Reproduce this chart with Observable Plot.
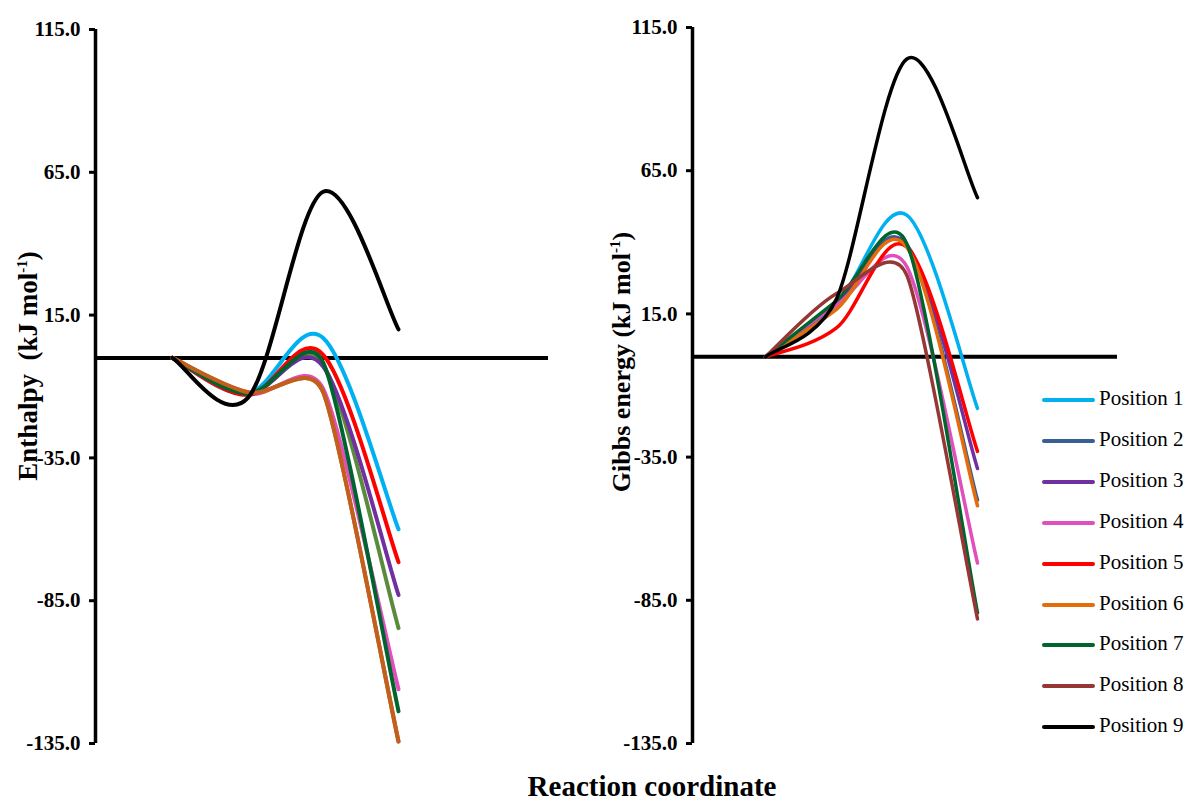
<!DOCTYPE html>
<html>
<head>
<meta charset="utf-8">
<script src="https://cdn.jsdelivr.net/npm/d3@7"></script>
<script src="https://cdn.jsdelivr.net/npm/@observablehq/plot@0.6"></script>
<style>
  html, body { margin: 0; padding: 0; background: #fff; }
  body { width: 1186px; height: 805px; position: relative; overflow: hidden; font-family: "Liberation Serif", "Times New Roman", serif; }
  .panel { position: absolute; top: 0; }
  .panel svg { background: transparent !important; }
  .panel svg text { font-family: "Liberation Serif", "Times New Roman", serif; font-weight: bold; }
  .ytitle { position: absolute; font-weight: bold; font-size: 26px; white-space: nowrap; transform: translate(-50%, -50%) rotate(-90deg); }
  .ytitle sup { font-size: 15px; }
  .xtitle { position: absolute; left: 652px; top: 770px; transform: translateX(-50%); font-weight: bold; font-size: 29px; white-space: nowrap; }
  .legend { position: absolute; left: 1042px; top: 0; z-index: 5; }
  .legend .item { position: absolute; left: 0; width: 150px; height: 24px; }
  .legend .swatch { position: absolute; left: 0; top: 10px; width: 53px; height: 4px; border-radius: 2px; }
  .legend .lab { position: absolute; left: 57px; top: -2px; font-size: 21px; white-space: nowrap; }
</style>
</head>
<body>
<div id="left" class="panel" style="left:0"></div>
<div id="right" class="panel" style="left:560px"></div>
<div class="ytitle" style="left:28px; top:366px; font-size:27px">Enthalpy&nbsp;&nbsp;(kJ mol<sup>-1</sup>)</div>
<div class="ytitle" style="left:622px; top:362px">Gibbs energy (kJ mol<sup>-1</sup>)</div>
<div class="xtitle">Reaction coordinate</div>
<div class="legend" id="legend"></div>
<script>
// ---------- data ----------
const positions = ["Position 1","Position 2","Position 3","Position 4","Position 5","Position 6","Position 7","Position 8","Position 9"];
const stages = [0, 1, 2, 3]; // reactant, intermediate, transition state, product
const colors = ["#00b0f0","#376092","#7030a0","#e04fbb","#ff0000","#e46c0a","#00642e","#953735","#000000"];
const leftColors = ["#00b0f0","#5a8a3c","#7030a0","#e04fbb","#ff0000","#c25f1c","#00642e","#c25f1c","#000000"];
// Enthalpy (kJ/mol) per position, at the four stages
const enthalpy = [
  [0, -12.5,   7.0,  -60.0],
  [0, -12.5,  -2.3,  -94.6],
  [0, -12.5,  -3.0,  -83.0],
  [0, -12.5, -10.8, -116.0],
  [0, -13.0,   1.1,  -71.5],
  [0, -12.0, -12.0, -134.3],
  [0, -12.5,  -1.6, -123.7],
  [0, -12.0, -12.0, -134.3],
  [0, -14.0,  58.2,   10.0]
];
// Gibbs energy (kJ/mol) per position, at the four stages
const gibbs = [
  [0, 18.0,  49.5, -18.0],
  [0, 18.5,  39.0, -50.0],
  [0, 18.5,  39.0, -39.0],
  [0, 18.0,  31.5, -72.0],
  [0, 10.0,  38.4, -33.0],
  [0, 16.5,  38.3, -52.0],
  [0, 19.5,  39.5, -89.4],
  [0, 22.0,  28.5, -91.5],
  [0, 20.0, 104.0,  55.6]
];
const yTicks = [115, 65, 15, -35, -85, -135];

// ---------- Excel-like smoothed line ----------
function excelCurve(context) {
  let pts = [];
  const dist = (a, b) => Math.hypot(b[0] - a[0], b[1] - a[1]);
  return {
    areaStart() {}, areaEnd() {},
    lineStart() { pts = []; },
    point(x, y) { pts.push([+x, +y]); },
    lineEnd() {
      const n = pts.length;
      if (!n) return;
      context.moveTo(pts[0][0], pts[0][1]);
      if (n === 1) return;
      const tang = (i) => {
        const a = pts[Math.max(i - 1, 0)], b = pts[Math.min(i + 1, n - 1)];
        const tx = b[0] - a[0], ty = b[1] - a[1];
        const L = Math.hypot(tx, ty) || 1;
        const d1 = i > 0 ? dist(pts[i - 1], pts[i]) : Infinity;
        const d2 = i < n - 1 ? dist(pts[i], pts[i + 1]) : Infinity;
        let f = 1 / 6;
        const m = Math.min(d1, d2);
        if (f * L > m / 2) f = m / (2 * L);
        return [tx * f, ty * f];
      };
      for (let i = 0; i < n - 1; i++) {
        const t0 = tang(i), t1 = tang(i + 1);
        context.bezierCurveTo(pts[i][0] + t0[0], pts[i][1] + t0[1],
                              pts[i + 1][0] - t1[0], pts[i + 1][1] - t1[1],
                              pts[i + 1][0], pts[i + 1][1]);
      }
    }
  };
}

function rows(values) {
  const out = [];
  values.forEach((series, k) => series.forEach((v, j) => out.push({pos: positions[k], stage: stages[j], value: v})));
  return out;
}

function panel({values, cols, width, marginLeft, marginRight, marginTop, xDomain, strokeWidth}) {
  return Plot.plot({
    width, height: 760,
    marginLeft, marginRight, marginTop, marginBottom: 17,
    x: {domain: xDomain, axis: null},
    y: {domain: [-135, 115], axis: null},
    color: {domain: positions, range: cols},
    marks: [
      Plot.ruleY([0], {stroke: "black", strokeWidth: 4}),
      Plot.line(rows(values), {x: "stage", y: "value", z: "pos", stroke: "pos", strokeWidth, curve: excelCurve, strokeLinecap: "round", strokeLinejoin: "round"}),
      Plot.axisY({ticks: yTicks, tickFormat: d => d.toFixed(1), tickSize: 6, tickPadding: 9, strokeWidth: 3, fontSize: 21, fontWeight: "bold", fill: "black", label: null}),
      Plot.ruleX([xDomain[0]], {stroke: "black", strokeWidth: 3.5})
    ]
  });
}

// left: axis at x=95, stage 0 -> 172, stage 3 -> 398, baseline ends 548
document.getElementById("left").append(panel({
  values: enthalpy, cols: leftColors, width: 560, marginLeft: 95, marginRight: 12, marginTop: 29,
  xDomain: [(95 - 172) / (226 / 3), (548 - 172) / (226 / 3)], strokeWidth: 4
}));
// right: axis at x=692, stage 0 -> 765, stage 3 -> 977, baseline ends 1117
document.getElementById("right").append(panel({
  values: gibbs, cols: colors, width: 626, marginLeft: 132, marginRight: 69, marginTop: 27,
  xDomain: [(692 - 765) / (212 / 3), (1117 - 765) / (212 / 3)], strokeWidth: 3.5
}));

// legend
const lg = document.getElementById("legend");
positions.forEach((p, i) => {
  const it = document.createElement("div");
  it.className = "item";
  it.style.top = (388 + i * 40.9) + "px";
  it.innerHTML = `<div class="swatch" style="background:${colors[i]}"></div><div class="lab">${p}</div>`;
  lg.append(it);
});
</script>
</body>
</html>
